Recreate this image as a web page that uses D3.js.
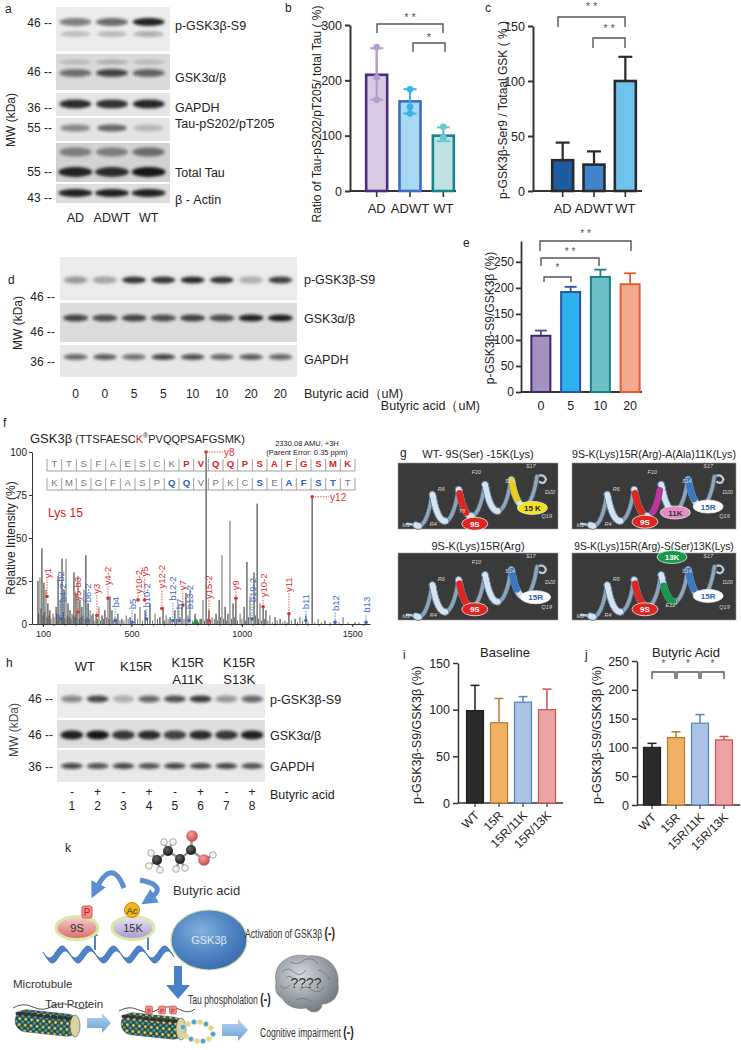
<!DOCTYPE html>
<html><head><meta charset="utf-8">
<script src="https://cdn.jsdelivr.net/npm/d3@7"></script>
<style>body{margin:0;background:#fff}svg{display:block}</style>
</head><body><svg id="c" width="741" height="1050"></svg>
<script>
// ================= DATA =================
// panel a (western blot, band intensities per lane)
const aLanes = ["AD","ADWT","WT"];
const aPGSK = [0.5,0.6,0.95], aPGSKlow = [0.2,0.22,0.3];
const aGSKup = [0.15,0.2,0.15], aGSK = [0.55,0.75,0.6];
const aGAPDH = [0.9,0.88,0.92];
const aTauP = [0.45,0.6,0.2];
const aTotTauUp = [0.45,0.45,0.55], aTotTau = [0.95,0.9,1];
const aActin = [0.95,0.95,0.95];
const aRowLabels = ["p-GSK3β-S9","GSK3α/β","GAPDH","Tau-pS202/pT205","Total Tau","β - Actin"];
const aMW = ["46 --","46 --","36 --","55 --","55 --","43 --"];
// panel b
const bGroups = ["AD","ADWT","WT"];
const tauRatio = [210,162,100];
const tauRatioLo = [165,140,90];
const tauRatioHi = [258,184,115];
const tauRatioPts = [[260,205,165],[184,152,140],[116,97,95]];
const bTicks = [0,100,200,300];
// panel c
const pgskRatio = [28,24,100];
const pgskRatioHi = [44,36,122];
const cTicks = [0,50,100,150];
// panel d (blot)
const dDoses = ["0","0","5","5","10","10","20","20"];
const dPGSK = [0.4,0.35,0.85,0.85,0.9,0.85,0.3,0.8];
const dGSK = [0.75,0.7,0.75,0.7,0.8,0.7,0.95,0.95];
const dGAPDH = [0.6,0.65,0.55,0.75,0.7,0.6,0.65,0.6];
const dRowLabels = ["p-GSK3β-S9","GSK3α/β","GAPDH"];
const dMW = ["46 --","46 --","36 --"];
// panel e
const eDoses = ["0","5","10","20"];
const doseRatio = [108,192,221,207];
const doseRatioHi = [118,202,235,228];
const eTicks = [0,50,100,150,200,250];
// panel f (MS/MS spectrum)
const seqTop = ["T","T","S","F","A","E","S","C","K","P","V","Q","Q","P","S","A","F","G","S","M","K"];
const seqBot = ["K","M","S","G","F","A","S","P","Q","Q","V","P","K","C","S","E","A","F","S","T","T"];
const seqTopRed = [9,10,11,12,13,14,15,16,17,18,19,20];
const seqBotBlue = [8,9,14,16,17,18,19];
const peaks = [[77,25],[86,27],[95,44],[104,24],[113,20],[122,12],[131,8],[145,6],[159,10],[168,28],[177,14],[186,38],[195,20],[204,38],[213,12],[222,8],[231,6],[240,30],[249,18],[258,28],[267,14],[276,10],[285,20],[294,40],[304,12],[313,8],[326,6],[340,4],[353,10],[367,5],[380,8],[394,16],[403,16],[412,8],[426,4],[439,6],[457,3],[476,5],[494,4],[516,6],[539,10],[562,8],[584,12],[607,6],[629,4],[643,10],[657,5],[675,4],[697,8],[711,12],[729,10],[747,18],[765,20],[788,6],[811,3],[824,14],[838,100],[851,8],[865,4],[883,6],[897,14],[910,40],[924,10],[937,6],[946,60],[960,12],[973,16],[992,6],[1010,10],[1023,36],[1037,16],[1055,30],[1069,70],[1082,12],[1096,10],[1109,8],[1127,5],[1150,4],[1173,3],[1195,2],[1213,6],[1241,3],[1263,4],[1290,5],[1318,74],[1345,3],[1376,2],[1422,2],[1458,4],[1512,1],[1562,1]];
const minorPeaks = [[80,6],[90,9],[100,5],[108,7],[117,4],[127,5],[136,3],[150,4],[163,6],[173,5],[182,4],[191,7],[200,3],[209,5],[218,4],[227,3],[236,5],[245,4],[254,6],[263,3],[272,4],[281,5],[290,3],[299,4],[309,3],[318,5],[331,2],[346,3],[360,2],[374,3],[388,4],[398,3],[418,2],[432,3],[448,2],[466,2],[485,3],[505,2],[528,3],[550,2],[573,3],[596,2],[618,3],[650,2],[666,3],[684,2],[704,3],[720,4],[738,3],[756,5],[776,2],[800,2],[817,3],[831,2],[845,3],[858,2],[875,3],[890,2],[904,4],[917,3],[930,2],[953,3],[966,4],[980,2],[1000,3],[1016,2],[1030,4],[1045,3],[1062,5],[1075,3],[1089,2],[1103,3],[1118,2],[1138,1],[1160,2],[1185,1],[1205,1],[1225,2],[1252,1],[1275,2],[1300,1],[1330,1],[1360,1],[1400,1],[1440,1],[1480,1],[1530,1]];
// ion annotations: [label, m/z, dot intensity, label start intensity, series]
const ionLabels = [["y1",118,16,26,"y"],["b2",181,3,24,"b"],["b4-2",190,3,12,"b"],["y5-b3",258,7,13,"y"],["b6-2",299,2,12,"b"],["y3",344,5,17,"y"],["y4-2",394,15,22,"y"],["b4",426,2,9,"b"],["b5",503,1,8,"b"],["y10-2",530,14,17,"y"],["b10-2",568,3,9,"b"],["y5",560,14,27,"y"],["y12-2",638,9,20,"y"],["b12-2",688,2,13,"b"],["y7",733,11,19,"y"],["b7",716,2,8,"b"],["b13-2",761,2,8,"b"],["y15-2",851,2,14,"y"],["y9",973,15,19,"y"],["b19-2",1046,3,12,"b"],["y10-2",1096,10,15,"y"],["y11",1213,6,18,"y"],["b11",1290,2,8,"b"],["b12",1422,1,7,"b"],["b13",1562,1,6,"b"]];
const topIons = [["y8",838,100],["y12",1318,74]];
const fXTicks = [100,500,1000,1500];
const fYTicks = [0,25,50,75,100];
// panel g (helix models)
const gTitles = ["WT- 9S(Ser) -15K(Lys)","9S-K(Lys)15R(Arg)-A(Ala)11K(Lys)","9S-K(Lys)15R(Arg)","9S-K(Lys)15R(Arg)-S(Ser)13K(Lys)"];
// coloured residues: [residue, position along box width (fraction), colour]
const gColored = [[[9,0.42,"#e0241f"],[15,0.74,"#e6cf1c"]],[[9,0.42,"#e0241f"],[11,0.5,"#b8389e"],[15,0.74,"#3c78bf"]],[[9,0.42,"#e0241f"],[15,0.74,"#3c78bf"]],[[9,0.42,"#e0241f"],[13,0.6,"#169a4a"],[15,0.74,"#3c78bf"]]];
const gTags = [[["9S",0.48,0.92,"#e0241f","#fff"],["15 K",0.84,0.68,"#f2e21a","#222"]],
               [["9S",0.445,0.89,"#e0241f","#fff"],["11K",0.63,0.75,"#e58cc8","#333"],["15R",0.83,0.66,"#ffffff","#2d5fb0"]],
               [["9S",0.48,0.84,"#e0241f","#fff"],["15R",0.86,0.66,"#ffffff","#2d5fb0"]],
               [["13K",0.61,0.06,"#169a4a","#fff"],["15R",0.83,0.64,"#ffffff","#2d5fb0"],["9S",0.445,0.84,"#e0241f","#fff"]]];
const gResidues = [["M1",0.05,0.97],["R4",0.22,0.95],["R6",0.27,0.42],["T8",0.4,0.76],["F10",0.49,0.17],["E12",0.6,0.8],["S14",0.7,0.3],["S17",0.83,0.07],["Q19",0.93,0.84],["D20",0.95,0.47]];
// panel h (blot)
const hLanes = ["1","2","3","4","5","6","7","8"];
const hTreat = ["-","+","-","+","-","+","-","+"];
const hPGSK = [0.45,0.75,0.3,0.6,0.7,0.85,0.4,0.6];
const hGSK = [0.95,1,0.85,0.9,0.8,0.9,0.85,0.95];
const hGAPDH = [0.75,0.7,0.75,0.7,0.75,0.75,0.75,0.7];
const hGroups = [["WT"],["K15R"],["K15R","A11K"],["K15R","S13K"]];
// panels i, j
const mutants = ["WT","15R","15R/11K","15R/13K"];
const baseline = [99,86,108,100];
const baselineHi = [126,112,114,122];
const butyric = [100,117,142,113];
const butyricHi = [107,127,157,119];
const iTicks = [0,50,100,150];
const jTicks = [0,50,100,150,200,250];

// ================= DRAWING =================
const FONT = "'Liberation Sans', Arial, Helvetica, sans-serif";
const svg = d3.select("#c").attr("font-family", FONT);
svg.append("rect").attr("width",741).attr("height",1050).attr("fill","#fff");
const defs = svg.append("defs");
defs.append("filter").attr("id","blur").attr("x","-50%").attr("y","-150%").attr("width","200%").attr("height","400%")
  .append("feGaussianBlur").attr("stdDeviation",1.7);

function txt(g, x, y, s, o = {}) {
  const t = g.append("text").attr("x", x).attr("y", y).text(s)
    .attr("font-size", o.size || 12).attr("fill", o.fill || "#222")
    .attr("text-anchor", o.anchor || "start");
  if (o.weight) t.attr("font-weight", o.weight);
  if (o.italic) t.attr("font-style", "italic");
  if (o.family) t.attr("font-family", o.family);
  if (o.rotate != null) t.attr("transform", `rotate(${o.rotate},${x},${y})`);
  return t;
}
// condensed label with a trailing bold "(-)"
function narrowLabel(g, x, y, s) {
  const t = g.append("text").attr("transform", `translate(${x},${y}) scale(0.69,1)`).attr("font-size", 12.5).attr("fill", "#333");
  t.append("tspan").text(s + " ");
  t.append("tspan").attr("font-size", 15).attr("font-weight", "bold").attr("fill", "#222").text("(-)");
  return t;
}
function styleAxis(sel, sw, fs) {
  sel.attr("font-family", FONT);
  sel.selectAll("path,line").attr("stroke", "#333").attr("stroke-width", sw);
  sel.selectAll("text").attr("font-size", fs).attr("fill", "#222");
}

// ---------- blots ----------
let clipId = 0;
function blot(g, x0, x1, lx, rows) {
  rows.forEach(r => {
    const id = "clip" + (clipId++);
    defs.append("clipPath").attr("id", id).append("rect").attr("x", x0).attr("y", r.y0).attr("width", x1 - x0).attr("height", r.y1 - r.y0);
    g.append("rect").attr("x", x0).attr("y", r.y0).attr("width", x1 - x0).attr("height", r.y1 - r.y0).attr("fill", r.bg);
    const gg = g.append("g").attr("clip-path", `url(#${id})`).append("g").attr("filter", "url(#blur)");
    r.bands.forEach(b => {
      gg.selectAll(null).data(b.vals).join("ellipse")
        .attr("cx", (d, i) => lx(lx.domain()[i])).attr("cy", b.y)
        .attr("rx", b.w / 2).attr("ry", b.h / 2)
        .attr("fill", "#161616").attr("fill-opacity", d => d);
    });
  });
}

// ===== Panel a =====
{
  const g = svg.append("g");
  txt(g, 5, 13, "a");
  const lx = d3.scalePoint().domain(aLanes).range([57,167]).padding(0.5);
  blot(g, 56, 170, lx, [
    {y0:7,y1:51,bg:"#ececec",bands:[{y:22,h:8,w:32,vals:aPGSK},{y:34,h:6,w:30,vals:aPGSKlow}]},
    {y0:54,y1:90,bg:"#dadada",bands:[{y:62,h:5,w:32,vals:aGSKup},{y:73,h:8,w:32,vals:aGSK}]},
    {y0:93,y1:116,bg:"#e6e6e6",bands:[{y:104,h:9,w:32,vals:aGAPDH}]},
    {y0:118,y1:141,bg:"#e4e4e4",bands:[{y:128,h:7,w:30,vals:aTauP}]},
    {y0:143,y1:182,bg:"#d2d2d2",bands:[{y:152,h:9,w:32,vals:aTotTauUp},{y:172,h:10,w:34,vals:aTotTau}]},
    {y0:184,y1:203,bg:"#dedede",bands:[{y:193,h:8,w:34,vals:aActin}]}
  ]);
  const mwY = [27,76,112,132,176,202];
  const labY = [30,82,112,128,177,204];
  aMW.forEach((m,i)=>txt(g, 52, mwY[i], m, {anchor:"end"}));
  aRowLabels.forEach((m,i)=>txt(g, 175, labY[i], m, {size: 12.5}));
  txt(g, 15, 120, "MW (kDa)", {anchor:"middle", rotate:-90});
  aLanes.forEach(l=>txt(g, lx(l), 222, l, {anchor:"middle", size:12.5}));
}

// ===== generic bar panel =====
function barPanel(cfg) {
  const g = svg.append("g");
  const y = d3.scaleLinear().domain(cfg.domain).range([cfg.yBase, cfg.yTop]);
  const x = d3.scalePoint().domain(cfg.cats).range(cfg.xr).padding(0.5);
  const gy = g.append("g").attr("transform", `translate(${cfg.ax},0)`)
    .call(d3.axisLeft(y).tickValues(cfg.ticks).tickSize(5).tickSizeOuter(0).tickPadding(cfg.tp || 3));
  styleAxis(gy, cfg.sw, cfg.fs);
  g.append("line").attr("x1", cfg.ax).attr("x2", cfg.xEnd).attr("y1", cfg.yBase).attr("y2", cfg.yBase)
    .attr("stroke", "#333").attr("stroke-width", cfg.sw);
  if (cfg.xTick) {
    g.selectAll(null).data(cfg.cats).join("line").attr("x1", d => x(d)).attr("x2", d => x(d))
      .attr("y1", cfg.yBase).attr("y2", cfg.yBase + cfg.xTick).attr("stroke", "#333").attr("stroke-width", cfg.sw * 0.8);
  }
  const bw = cfg.bw;
  g.selectAll(null).data(cfg.values).join("line")
    .attr("x1", (d, i) => x(cfg.cats[i])).attr("x2", (d, i) => x(cfg.cats[i]))
    .attr("y1", (d, i) => y(cfg.lo ? cfg.lo[i] : d)).attr("y2", (d, i) => y(cfg.hi[i]))
    .attr("stroke", (d, i) => cfg.errC[i]).attr("stroke-width", cfg.esw);
  g.selectAll(null).data(cfg.values).join("rect")
    .attr("x", (d, i) => x(cfg.cats[i]) - bw / 2).attr("y", d => y(d))
    .attr("width", bw).attr("height", d => y(0) - y(d))
    .attr("fill", (d, i) => cfg.fills[i])
    .attr("stroke", (d, i) => cfg.strokes[i]).attr("stroke-width", cfg.bsw);
  if (cfg.lo) {
    g.selectAll(null).data(cfg.values).join("line")
      .attr("x1", (d, i) => x(cfg.cats[i])).attr("x2", (d, i) => x(cfg.cats[i]))
      .attr("y1", (d, i) => y(cfg.lo[i])).attr("y2", (d, i) => y(cfg.hi[i]))
      .attr("stroke", (d, i) => cfg.errC[i]).attr("stroke-width", cfg.esw);
  }
  const caps = [];
  cfg.values.forEach((d, i) => { caps.push([i, cfg.hi[i]]); if (cfg.lo) caps.push([i, cfg.lo[i]]); });
  g.selectAll(null).data(caps).join("line")
    .attr("x1", d => x(cfg.cats[d[0]]) - cfg.cap / 2).attr("x2", d => x(cfg.cats[d[0]]) + cfg.cap / 2)
    .attr("y1", d => y(d[1])).attr("y2", d => y(d[1]))
    .attr("stroke", d => cfg.errC[d[0]]).attr("stroke-width", cfg.esw);
  if (cfg.pts) {
    const pts = [];
    cfg.pts.forEach((arr, i) => arr.forEach(v => pts.push([i, v])));
    g.selectAll(null).data(pts).join("circle").attr("cx", d => x(cfg.cats[d[0]])).attr("cy", d => y(d[1]))
      .attr("r", 3.3).attr("fill", d => cfg.errC[d[0]]);
  }
  if (cfg.labels) {
    if (cfg.rotLabels) {
      cfg.cats.forEach(c => txt(g, x(c) + 5, cfg.yBase + 13, c, {anchor: "end", rotate: -45, size: cfg.lfs}));
    } else {
      cfg.cats.forEach(c => txt(g, x(c), cfg.labelY, c, {anchor: "middle", size: cfg.lfs}));
    }
  }
  return {x, y, g};
}
function bracket(g, x1, x2, yl, f1, f2, label, ly, fs) {
  g.append("path").attr("d", `M${x1},${f1}V${yl}H${x2}V${f2}`).attr("fill", "none")
    .attr("stroke", "#555").attr("stroke-width", 1.4);
  txt(g, (x1 + x2) / 2, ly, label, {anchor: "middle", size: fs || 11, fill: "#555"});
}

// ===== Panel b =====
{
  const p = barPanel({cats: bGroups, values: tauRatio, lo: tauRatioLo, hi: tauRatioHi, pts: tauRatioPts,
    domain: [0,300], yBase: 191, yTop: 25, ax: 350, xr: [360,460], xEnd: 456, ticks: bTicks, sw: 2, fs: 12.5,
    bw: 21, bsw: 2.6, fills: ["#d8cae3","#a9d8f3","#c0e2e2"], strokes: ["#4b2d7f","#3e6cc3","#16858f"],
    errC: ["#b39cca","#38b3e8","#6ac6cf"], esw: 2, cap: 13, xTick: 6, labels: true, labelY: 213, lfs: 13});
  txt(p.g, 285, 12, "b");
  txt(p.g, 321, 114, "Ratio of Tau-pS202/pT205/ total Tau ( %)", {anchor: "middle", rotate: -90, size: 12});
  bracket(p.g, 377, 443, 24, 33, 33, "* *", 21, 11);
  bracket(p.g, 413, 445, 43, 52, 52, "*", 41, 11);
}
// ===== Panel c =====
{
  const p = barPanel({cats: bGroups, values: pgskRatio, hi: pgskRatioHi,
    domain: [0,150], yBase: 191, yTop: 26, ax: 533, xr: [547,641], xEnd: 642, ticks: cTicks, sw: 2, fs: 12.5,
    bw: 21, bsw: 2.6, fills: ["#1e5ba0","#3f84ca","#70c3ee"], strokes: ["#2a2a2a","#2a2a2a","#2a2a2a"],
    errC: ["#2a2a2a","#2a2a2a","#2a2a2a"], esw: 2.2, cap: 14, xTick: 6, labels: true, labelY: 213, lfs: 13});
  txt(p.g, 485, 12, "c");
  txt(p.g, 507, 110, "p-GSK3β-Ser9 / Totaal GSK ( % )", {anchor: "middle", rotate: -90, size: 12});
  bracket(p.g, 558, 625, 17, 27, 27, "* *", 10, 11);
  bracket(p.g, 593, 625, 38, 48, 48, "* *", 32, 11);
}

// ===== Panel d =====
{
  const g = svg.append("g");
  txt(g, 8, 284, "d");
  const lx = d3.scalePoint().domain(d3.range(dDoses.length)).range([61,295]).padding(0.5);
  blot(g, 60, 297, lx, [
    {y0:257,y1:300,bg:"#ebebeb",bands:[{y:280,h:7,w:24,vals:dPGSK}]},
    {y0:303,y1:342,bg:"#dcdcdc",bands:[{y:318,h:7,w:25,vals:dGSK}]},
    {y0:345,y1:377,bg:"#e8e8e8",bands:[{y:357,h:6,w:24,vals:dGAPDH}]}
  ]);
  const mwY = [301,336,366];
  dMW.forEach((m,i)=>txt(g, 55, mwY[i], m, {anchor:"end"}));
  const labY = [284,323,364];
  dRowLabels.forEach((m,i)=>txt(g, 304, labY[i], m, {size: 12.5}));
  txt(g, 22, 323, "MW (kDa)", {anchor:"middle", rotate:-90});
  dDoses.forEach((d,i)=>txt(g, lx(i), 398, d, {anchor:"middle"}));
  txt(g, 304, 398, "Butyric acid（uM)", {size: 12.5});
}

// ===== Panel e =====
{
  const p = barPanel({cats: eDoses, values: doseRatio, hi: doseRatioHi,
    domain: [0,290], yBase: 392, yTop: 241, ax: 521, xr: [526,645], xEnd: 642, ticks: eTicks, sw: 1.8, fs: 12, tp: 2,
    bw: 19, bsw: 2, fills: ["#a690c2","#2db1ea","#6cc1c9","#f2a98f"], strokes: ["#3a2a6b","#2b53a3","#1a808b","#e2602f"],
    errC: ["#5a4a8c","#2b53a3","#1a808b","#e2602f"], esw: 1.8, cap: 12, xTick: 0, labels: true, labelY: 410, lfs: 12.5});
  txt(p.g, 463, 247, "e");
  txt(p.g, 494, 318, "p-GSK3β-S9/GSK3β (%)", {anchor: "middle", rotate: -90, size: 12});
  txt(p.g, 480, 410, "Butyric acid（uM)", {anchor: "end", size: 12.5});
  bracket(p.g, 540, 631, 241, 251, 251, "* *", 237, 10);
  bracket(p.g, 541, 599, 258, 266, 266, "* *", 255, 10);
  bracket(p.g, 544, 571, 277, 282, 282, "*", 271, 10);
}

// ===== Panel f =====
{
  const g = svg.append("g");
  txt(g, 3, 427, "f");
  const t = txt(g, 30, 443, "GSK3β", {size: 13});
  t.append("tspan").attr("font-size", 11).text(" (TTSFAESC");
  t.append("tspan").attr("font-size", 11).attr("fill", "#e02020").text("K");
  t.append("tspan").attr("font-size", 7).attr("dy", -5).text("®");
  t.append("tspan").attr("font-size", 11).attr("dy", 5).text("PVQQPSAFGSMK)");
  txt(g, 307, 446, "2330.08 AMU, +3H", {anchor: "middle", size: 7.5});
  txt(g, 307, 455, "(Parent Error: 0.35 ppm)", {anchor: "middle", size: 7.5});
  const fx = d3.scaleLinear().domain([50,1580]).range([32,370]);
  const fy = d3.scaleLinear().domain([0,100]).range([624,452]);
  g.selectAll(null).data(minorPeaks).join("line").attr("x1", d => fx(d[0])).attr("x2", d => fx(d[0]))
    .attr("y1", fy(0)).attr("y2", d => fy(d[1])).attr("stroke", "#444").attr("stroke-width", 0.8);
  g.selectAll(null).data(peaks).join("line").attr("x1", d => fx(d[0])).attr("x2", d => fx(d[0]))
    .attr("y1", fy(0)).attr("y2", d => fy(d[1])).attr("stroke", (d,i) => i % 3 === 1 ? "#666" : "#262626").attr("stroke-width", 1);
  const gy = g.append("g").attr("transform", "translate(32,0)").call(d3.axisLeft(fy).tickValues(fYTicks).tickSize(3).tickSizeOuter(0).tickPadding(2));
  styleAxis(gy, 1, 10);
  const gx = g.append("g").attr("transform", "translate(0,624)").call(d3.axisBottom(fx).tickValues(fXTicks).tickFormat(d3.format("d")).tickSize(3).tickSizeOuter(0).tickPadding(4));
  styleAxis(gx, 1, 9);
  gx.selectAll(null).data(d3.range(100,1600,50)).join("line").attr("x1", d => fx(d)).attr("x2", d => fx(d))
    .attr("y1", 0).attr("y2", 2).attr("stroke", "#333").attr("stroke-width", 0.7);
  txt(g, 15, 538, "Relative Intensity (%)", {anchor: "middle", rotate: -90, size: 12});
  g.append("path").attr("d", d3.symbol(d3.symbolTriangle, 22)()).attr("transform", `translate(${fx(792)},${fy(0)-2})`).attr("fill", "#1a9a3a");
  const sx = d3.scalePoint().domain(d3.range(21)).range([47,355]).padding(0.5);
  const rows = [[seqTop, 467, 471, i => seqTopRed.includes(i) ? "#e02020" : "#777"], [seqBot, 486, 490, i => seqBotBlue.includes(i) ? "#2a5fb8" : "#777"]];
  rows.forEach(([seq, ty, ly, col]) => {
    g.append("line").attr("x1", 47).attr("x2", 355).attr("y1", ly).attr("y2", ly).attr("stroke", "#888").attr("stroke-width", 0.8);
    g.selectAll(null).data(d3.range(22)).join("line").attr("x1", i => 47 + i * sx.step()).attr("x2", i => 47 + i * sx.step())
      .attr("y1", ly - 12).attr("y2", ly).attr("stroke", "#888").attr("stroke-width", 0.8);
    seq.forEach((s, i) => {
      const c = col(i);
      txt(g, sx(i), ty, s, {anchor: "middle", size: 9.5, fill: c, weight: c === "#777" ? null : "bold"});
    });
  });
  txt(g, 48, 517, "Lys 15", {size: 12, fill: "#e02020"});
  ionLabels.forEach(([lab, mz, di, lo, s]) => {
    const c = s === "y" ? "#e0302a" : "#3b6cc4";
    const px = fx(mz);
    g.append("line").attr("x1", px).attr("x2", px).attr("y1", fy(di)).attr("y2", fy(lo)).attr("stroke", c).attr("stroke-width", 0.8).attr("stroke-dasharray", "1.5,1.2");
    g.append("circle").attr("cx", px).attr("cy", fy(di)).attr("r", 1.8).attr("fill", c);
    txt(g, px + 3.5, fy(lo) - 1, lab, {size: 9.5, fill: c, rotate: -90});
  });
  topIons.forEach(([lab, mz, I]) => {
    const px = fx(mz);
    g.append("circle").attr("cx", px).attr("cy", fy(I)).attr("r", 1.8).attr("fill", "#e0302a");
    g.append("line").attr("x1", px).attr("x2", px + 17).attr("y1", fy(I)).attr("y2", fy(I)).attr("stroke", "#e0302a").attr("stroke-width", 0.8).attr("stroke-dasharray", "1.5,1.2");
    txt(g, px + 18, fy(I) + 4, lab, {size: 10, fill: "#e0302a"});
  });
}

// ===== Panel g =====
{
  const g = svg.append("g");
  txt(g, 400, 457, "g", {size: 12});
  const boxes = [[398,463,160,66],[572,463,164,66],[398,553,160,67],[572,553,164,67]];
  const titleX = [478,654,478,654], titleY = [458,458,550,550], titleFs = [11,10.6,11,10.2];
  boxes.forEach((b, bi) => {
    const [x0, y0, w, h] = b;
    txt(g, titleX[bi], titleY[bi], gTitles[bi], {anchor: "middle", size: titleFs[bi]});
    g.append("rect").attr("x", x0).attr("y", y0).attr("width", w).attr("height", h).attr("fill", "#3a3a3a").attr("stroke", "#9a9a9a").attr("stroke-width", 0.6);
    const turns = 4.5, N = 300, phase = 5.83, f0 = 0.12, f1 = 0.86;
    const a0 = [x0 + w * f0, y0 + h * 0.74], a1 = [x0 + w * f1, y0 + h * 0.4];
    const R = h * 0.22, k = w * 0.02;
    const pt = t => { const a = 2 * Math.PI * turns * t + phase; return [a0[0] + (a1[0] - a0[0]) * t + k * Math.sin(a), a0[1] + (a1[1] - a0[1]) * t + R * Math.cos(a), Math.sin(a)]; };
    const samp = d3.range(N + 1).map(i => pt(i / N));
    const segs = d3.range(N).map(i => [samp[i], samp[i + 1]]);
    const back = segs.filter(s => s[0][2] >= 0), front = segs.filter(s => s[0][2] < 0);
    const drawSegs = (data, col, sw) => g.selectAll(null).data(data).join("line")
      .attr("x1", s => s[0][0]).attr("y1", s => s[0][1]).attr("x2", s => s[1][0]).attr("y2", s => s[1][1])
      .attr("stroke", col).attr("stroke-width", sw).attr("stroke-linecap", "round");
    g.append("path").attr("d", `M${samp[0][0]},${samp[0][1]} L${x0 + w * 0.05},${y0 + h * 0.92}`).attr("stroke", "#b8cde0").attr("stroke-width", 2.5).attr("fill", "none");
    g.append("path").attr("d", `M${samp[N][0]},${samp[N][1]} q7,-3 9,3 q-2,6 -7,2`).attr("stroke", "#b8cde0").attr("stroke-width", 2.2).attr("fill", "none");
    drawSegs(back, "#5a6f84", 4.5);
    drawSegs(back, "#8fa6bb", 3);
    drawSegs(front, "#6d8aa6", 7);
    drawSegs(front, "#d5e3ef", 5);
    gColored[bi].forEach(([res, fr, col]) => {
      const tc = (fr - f0) / (f1 - f0);
      const t0 = tc - 0.028, t1 = tc + 0.028;
      const pts = d3.range(0, 21).map(j => pt(t0 + (t1 - t0) * j / 20));
      g.append("path").attr("d", d3.line()(pts.map(p => [p[0], p[1]]))).attr("stroke", col).attr("stroke-width", 6.5).attr("fill", "none").attr("stroke-linecap", "round");
    });
    const tags = gTags[bi];
    gResidues.filter(([r, fxr, fyr]) => !tags.some(tg => Math.abs(tg[1] - fxr) * w < 20 && Math.abs(tg[2] - fyr) * h < 10))
      .forEach(([r, fxr, fyr]) => txt(g, x0 + w * fxr, y0 + h * fyr, r, {size: 5.5, fill: "#d8d8d8", italic: true, anchor: "middle"}));
    tags.forEach(([lab, fxr, fyr, fill, tc]) => {
      g.append("ellipse").attr("cx", x0 + w * fxr).attr("cy", y0 + h * fyr).attr("rx", lab.length > 2 ? 15 : 13).attr("ry", 6.5)
        .attr("fill", fill).attr("stroke", "#eee").attr("stroke-width", 0.8);
      txt(g, x0 + w * fxr, y0 + h * fyr + 3, lab, {anchor: "middle", size: 8, fill: tc, weight: "bold"});
    });
  });
}

// ===== Panel h =====
{
  const g = svg.append("g");
  txt(g, 6, 667, "h");
  const lx = d3.scalePoint().domain(d3.range(hLanes.length)).range([59,265]).padding(0.5);
  blot(g, 57, 265, lx, [
    {y0:684,y1:718,bg:"#ebebeb",bands:[{y:699,h:7,w:22,vals:hPGSK}]},
    {y0:720,y1:748,bg:"#dedede",bands:[{y:735,h:9,w:23,vals:hGSK}]},
    {y0:750,y1:782,bg:"#e8e8e8",bands:[{y:766,h:6,w:22,vals:hGAPDH}]}
  ]);
  hGroups.forEach((lines, gi) => {
    const cx = (lx(gi * 2) + lx(gi * 2 + 1)) / 2;
    if (lines.length === 1) txt(g, cx, 671, lines[0], {anchor: "middle", size: 13});
    else { txt(g, cx, 667, lines[0], {anchor: "middle", size: 13}); txt(g, cx, 684, lines[1], {anchor: "middle", size: 13}); }
  });
  const mwY = [703,739,771];
  dMW.forEach((m,i)=>txt(g, 53, mwY[i], m, {anchor:"end"}));
  const labY = [704,740,771];
  dRowLabels.forEach((m,i)=>txt(g, 270, labY[i], m, {size: 12.5}));
  txt(g, 18, 730, "MW (kDa)", {anchor:"middle", rotate:-90, fill: "#444"});
  hTreat.forEach((d,i)=>txt(g, lx(i), 796, d, {anchor:"middle"}));
  hLanes.forEach((d,i)=>txt(g, lx(i), 810, d, {anchor:"middle"}));
  txt(g, 270, 799, "Butyric acid", {size: 12.5});
}

// ===== Panels i, j =====
const mutFill = ["#2b2b2b","#f0b262","#a9c3e4","#eca3a3"];
const mutStroke = ["#1e1e1e","#b87b30","#5a80ba","#d45050"];
{
  const p = barPanel({cats: mutants, values: baseline, hi: baselineHi,
    domain: [0,150], yBase: 803, yTop: 663, ax: 458, xr: [463,559], xEnd: 563, ticks: iTicks, sw: 1.5, fs: 12.5,
    bw: 17, bsw: 1.2, fills: mutFill, strokes: mutStroke, errC: mutStroke, esw: 1.5, cap: 9, xTick: 4,
    labels: true, rotLabels: true, lfs: 12});
  txt(p.g, 403, 659, "i");
  txt(p.g, 505, 657, "Baseline", {anchor: "middle", size: 13});
  txt(p.g, 421, 735, "p-GSK3β-S9/GSK3β (%)", {anchor: "middle", rotate: -90, size: 12.5});
}
{
  const p = barPanel({cats: mutants, values: butyric, hi: butyricHi,
    domain: [0,250], yBase: 805, yTop: 661, ax: 637, xr: [640,736], xEnd: 740, ticks: jTicks, sw: 1.5, fs: 12.5,
    bw: 17, bsw: 1.2, fills: mutFill, strokes: mutStroke, errC: mutStroke, esw: 1.5, cap: 9, xTick: 4,
    labels: true, rotLabels: true, lfs: 12});
  txt(p.g, 585, 659, "j");
  txt(p.g, 686, 657, "Butyric Acid", {anchor: "middle", size: 13});
  txt(p.g, 601, 735, "p-GSK3β-S9/GSK3β (%)", {anchor: "middle", rotate: -90, size: 12.5});
  const xs = mutants.map(m => p.x(m));
  for (let i = 0; i < 3; i++) bracket(p.g, xs[i] + (i ? 1 : 0), xs[i + 1] - (i < 2 ? 1 : 0), 672, 679, 679, "*", 667, 10);
}

// ===== Panel k (schematic) =====
{
  const g = svg.append("g");
  txt(g, 65, 852, "k", {size: 12});
  const lg = (id, stops, radial) => { const gr = defs.append(radial ? "radialGradient" : "linearGradient").attr("id", id);
    if (!radial) gr.attr("x1", 0).attr("y1", 0).attr("x2", 0).attr("y2", 1); else gr.attr("cx", "40%").attr("cy", "35%").attr("r", "70%");
    stops.forEach((s, i) => gr.append("stop").attr("offset", i / (stops.length - 1)).attr("stop-color", s)); };
  lg("gsk", ["#86b0de","#5488c6","#3a6aae"], true);
  lg("pink", ["#f8d0d0","#d86868"], false);
  lg("lav", ["#ece6f6","#a898cc"], false);
  lg("arrowR", ["#b8d6f2","#6c9fd8"], false);
  lg("brain", ["#d7dbdf","#a2a8ae","#6f767d"], true);
  lg("atomC", ["#666","#111"], true);
  lg("atomO", ["#f4a0a0","#c84040"], true);
  defs.append("marker").attr("id", "ah").attr("viewBox", "0 0 10 10").attr("refX", 5).attr("refY", 5)
    .attr("markerWidth", 3.2).attr("markerHeight", 3.2).attr("orient", "auto")
    .append("path").attr("d", "M0,0L10,5L0,10z").attr("fill", "#5b8fd2");
  const pat = defs.append("pattern").attr("id", "mt").attr("width", 6).attr("height", 6).attr("patternUnits", "userSpaceOnUse");
  pat.append("rect").attr("width", 6).attr("height", 6).attr("fill", "#2c4a40");
  pat.append("circle").attr("cx", 1.5).attr("cy", 1.5).attr("r", 1.4).attr("fill", "#e6dc6a");
  pat.append("circle").attr("cx", 4.5).attr("cy", 4.5).attr("r", 1.4).attr("fill", "#3fa8c8");

  const atoms = [["C",157,860],["C",168,851],["C",180,859],["C",191,850],["O",192,836],["O",204,860],
    ["H",149,866],["H",151,853],["H",160,870],["H",164,842],["H",173,842],["H",176,869],["H",185,868],["H",213,855]];
  const bonds = [[0,1],[1,2],[2,3],[3,4],[3,5],[0,6],[0,7],[0,8],[1,9],[1,10],[2,11],[2,12],[5,13]];
  g.selectAll(null).data(bonds).join("line").attr("x1", d => atoms[d[0]][1]).attr("y1", d => atoms[d[0]][2])
    .attr("x2", d => atoms[d[1]][1]).attr("y2", d => atoms[d[1]][2]).attr("stroke", "#9a9a9a").attr("stroke-width", 2.5);
  g.selectAll(null).data(atoms).join("circle").attr("cx", d => d[1]).attr("cy", d => d[2])
    .attr("r", d => d[0] === "H" ? 3.3 : d[0] === "O" ? 5.8 : 5)
    .attr("fill", d => d[0] === "H" ? "#f4f4f4" : d[0] === "O" ? "url(#atomO)" : "url(#atomC)")
    .attr("stroke", d => d[0] === "H" ? "#888" : "none").attr("stroke-width", 0.7);
  txt(g, 173, 895, "Butyric acid", {size: 13, fill: "#333"});
  g.append("path").attr("d", "M124,888 Q112,856 95,891").attr("fill", "none").attr("stroke", "#5b8fd2").attr("stroke-width", 5).attr("marker-end", "url(#ah)");
  g.append("path").attr("d", "M140,880 Q170,886 148,900").attr("fill", "none").attr("stroke", "#5b8fd2").attr("stroke-width", 5).attr("marker-end", "url(#ah)");
  const hp = d3.range(0, 129).map(i => [43 + i, 952 + 6 * Math.sin(i / 128 * 2 * Math.PI * 5)]);
  const hp2 = hp.map(p => [p[0] + 3, p[1] + 5]).reverse();
  g.append("path").attr("d", d3.line()(hp.concat(hp2)) + "Z").attr("fill", "#4d82c8").attr("stroke", "#3a6cae").attr("stroke-width", 0.8);
  [[95,950,933],[148,950,933]].forEach(a => g.append("line").attr("x1", a[0]).attr("x2", a[0]).attr("y1", a[1]).attr("y2", a[2])
    .attr("stroke", "#4d82c8").attr("stroke-width", 2).attr("marker-end", "url(#ah)"));
  g.append("ellipse").attr("cx", 77).attr("cy", 928).attr("rx", 21).attr("ry", 11.5).attr("fill", "url(#pink)").attr("stroke", "#dbe8a6").attr("stroke-width", 3);
  txt(g, 77, 932, "9S", {anchor: "middle", size: 11, fill: "#333"});
  g.append("rect").attr("x", 82).attr("y", 906).attr("width", 10).attr("height", 12).attr("rx", 2).attr("fill", "#f39090").attr("stroke", "#e05050");
  txt(g, 87, 916, "P", {anchor: "middle", size: 10, fill: "#c01818"});
  g.append("ellipse").attr("cx", 133).attr("cy", 928).attr("rx", 21).attr("ry", 11.5).attr("fill", "url(#lav)").attr("stroke", "#dbe8a6").attr("stroke-width", 3);
  txt(g, 133, 932, "15K", {anchor: "middle", size: 11, fill: "#333"});
  g.append("circle").attr("cx", 132).attr("cy", 910).attr("r", 7.5).attr("fill", "#f3b51d").attr("stroke", "#c6860d");
  txt(g, 132, 913.5, "Ac", {anchor: "middle", size: 9.5, fill: "#333"});
  g.append("ellipse").attr("cx", 209).attr("cy", 940).attr("rx", 38).attr("ry", 30).attr("fill", "url(#gsk)").attr("stroke", "#cfe0a8").attr("stroke-width", 1.2);
  txt(g, 209, 944, "GSK3β", {anchor: "middle", size: 11, fill: "#dfe9f6"});
  narrowLabel(g, 245, 938, "Activation of  GSK3β");
  g.append("path").attr("d", "M174,966 H182 V985 H190 L178,999 L166,985 H174 Z").attr("fill", "#4a7fc6");
  narrowLabel(g, 188, 1004, "Tau phospholation");
  g.append("path").attr("d", "M276,982 C272,962 292,952 308,956 C326,954 340,966 338,984 C340,996 332,1004 322,1004 C322,1012 312,1015 306,1008 C296,1010 286,1006 282,998 C276,995 275,990 276,982 Z")
    .attr("fill", "url(#brain)").attr("stroke", "#777").attr("stroke-width", 0.6);
  const gyri = ["M282,972 q6,-6 12,0 q6,6 12,-2","M290,962 q8,4 14,-2 q8,-4 14,4","M300,990 q6,-6 12,0 q6,5 12,-3","M280,986 q5,5 10,-1","M318,970 q8,2 12,10","M296,1000 q8,-4 16,2","M286,978 q4,-4 8,2"];
  g.selectAll(null).data(gyri).join("path").attr("d", d => d).attr("fill", "none").attr("stroke", "#6e757c").attr("stroke-width", 0.8);
  txt(g, 306, 988, "????", {anchor: "middle", size: 14, fill: "#3a3a3a"});
  txt(g, 13, 988, "Microtubule", {size: 11.5, fill: "#333"});
  txt(g, 45, 1008, "Tau Protein", {size: 11.5, fill: "#333"});
  const mt = (x0, y0, w, h) => {
    g.append("rect").attr("x", x0).attr("y", y0).attr("width", w).attr("height", h).attr("rx", h / 2).attr("fill", "url(#mt)").attr("stroke", "#555").attr("stroke-width", 0.6)
      .attr("transform", `rotate(6,${x0 + w / 2},${y0 + h / 2})`);
    g.append("ellipse").attr("cx", x0 + w - 4).attr("cy", y0 + h / 2 + 3).attr("rx", 5).attr("ry", h / 2).attr("fill", "#d8d4a0").attr("stroke", "#556").attr("stroke-width", 0.6);
    g.append("path").attr("d", `M${x0 - 2},${y0 - 4} q10,-6 20,-1 q10,5 20,-1 q10,-5 22,1 q8,4 14,-1`).attr("fill", "none").attr("stroke", "#555").attr("stroke-width", 1);
    d3.range(x0 + 4, x0 + w - 6, 7).forEach(xx => g.append("ellipse").attr("cx", xx).attr("cy", y0 + 1 + (xx - x0) * 0.1).attr("rx", 3.5).attr("ry", 1.8).attr("fill", "#333"));
  };
  mt(15, 1012, 64, 22);
  mt(121, 1015, 64, 22);
  g.append("path").attr("d", "M87,1018 H102 V1013 L111,1023 L102,1033 V1028 H87 Z").attr("fill", "url(#arrowR)");
  g.append("path").attr("d", "M222,1024 H238 V1019 L248,1030 L238,1041 V1036 H222 Z").attr("fill", "url(#arrowR)");
  [149,162,173].forEach(xx => { g.append("rect").attr("x", xx - 3.5).attr("y", 1006).attr("width", 7).attr("height", 8).attr("rx", 1.5).attr("fill", "#f28a8a").attr("stroke", "#d04040").attr("stroke-width", 0.6);
    txt(g, xx, 1012.5, "P", {anchor: "middle", size: 6, fill: "#c01818"}); });
  const beads = [[183,1027,"#3fa8c8"],[188,1024,"#e6dc6a"],[194,1022,"#3fa8c8"],[200,1022,"#e6dc6a"],[206,1024,"#3fa8c8"],[211,1028,"#e6dc6a"],[213,1034,"#3fa8c8"],[209,1039,"#e6dc6a"],[203,1041,"#3fa8c8"],[197,1041,"#e6dc6a"],[191,1039,"#3fa8c8"],[186,1036,"#e6dc6a"]];
  g.selectAll(null).data(beads).join("circle").attr("cx", d => d[0]).attr("cy", d => d[1]).attr("r", 2.6).attr("fill", d => d[2]).attr("stroke", "#ddd").attr("stroke-width", 0.6);
  narrowLabel(g, 260, 1037, "Cognitive impairment");
}
</script></body></html>
